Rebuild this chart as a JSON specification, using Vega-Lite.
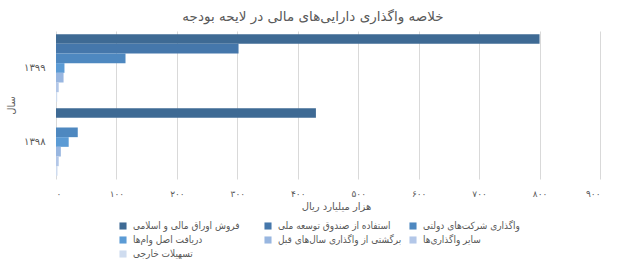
{
  "$schema": "https://vega.github.io/schema/vega-lite/v6.json",
  "autosize": {"type": "none"},
  "width": 544,
  "height": 148,
  "padding": {"left": 56, "top": 31, "right": 25, "bottom": 80},
  "background": "white",
  "config": {
    "view": {"stroke": null},
    "font": "DejaVu Sans"
  },
  "title": {
    "text": "خلاصه واگذاری دارایی‌های مالی در لایحه بودجه",
    "font": "DejaVu Sans",
    "fontSize": 13.5,
    "fontWeight": "normal",
    "color": "#595959",
    "anchor": "middle",
    "frame": "group",
    "dx": -15,
    "offset": 8
  },
  "data": {
    "values": [
      {"year": "۱۳۹۹", "series": "فروش اوراق مالی و اسلامی", "value": 800},
      {"year": "۱۳۹۹", "series": "استفاده از صندوق توسعه ملی", "value": 302},
      {"year": "۱۳۹۹", "series": "واگذاری شرکت‌های دولتی", "value": 115},
      {"year": "۱۳۹۹", "series": "دریافت اصل وام‌ها", "value": 14},
      {"year": "۱۳۹۹", "series": "برگشتی از واگذاری سال‌های قبل", "value": 12.5},
      {"year": "۱۳۹۹", "series": "سایر واگذاری‌ها", "value": 4.5},
      {"year": "۱۳۹۹", "series": "تسهیلات خارجی", "value": 2},
      {"year": "۱۳۹۸", "series": "فروش اوراق مالی و اسلامی", "value": 430},
      {"year": "۱۳۹۸", "series": "استفاده از صندوق توسعه ملی", "value": 0},
      {"year": "۱۳۹۸", "series": "واگذاری شرکت‌های دولتی", "value": 36},
      {"year": "۱۳۹۸", "series": "دریافت اصل وام‌ها", "value": 21},
      {"year": "۱۳۹۸", "series": "برگشتی از واگذاری سال‌های قبل", "value": 8},
      {"year": "۱۳۹۸", "series": "سایر واگذاری‌ها", "value": 4.5},
      {"year": "۱۳۹۸", "series": "تسهیلات خارجی", "value": 2.5}
    ]
  },
  "mark": {"type": "bar", "cornerRadius": 0},
  "encoding": {
    "y": {
      "field": "year",
      "type": "nominal",
      "sort": ["۱۳۹۹", "۱۳۹۸"],
      "scale": {"paddingInner": 0.085, "paddingOuter": 0.0425},
      "axis": {
        "title": "سال",
        "titleFont": "DejaVu Sans",
        "titleFontSize": 10,
        "titleFontWeight": "normal",
        "titleColor": "#595959",
        "titlePadding": 7,
        "labelFont": "DejaVu Sans",
        "labelFontSize": 10,
        "labelColor": "#595959",
        "labelPadding": 11,
        "ticks": false,
        "domain": false,
        "grid": false
      }
    },
    "yOffset": {
      "field": "series",
      "type": "nominal",
      "sort": ["فروش اوراق مالی و اسلامی", "استفاده از صندوق توسعه ملی", "واگذاری شرکت‌های دولتی", "دریافت اصل وام‌ها", "برگشتی از واگذاری سال‌های قبل", "سایر واگذاری‌ها", "تسهیلات خارجی"],
      "scale": {"paddingInner": 0, "paddingOuter": 0}
    },
    "x": {
      "field": "value",
      "type": "quantitative",
      "scale": {"domain": [0, 900], "nice": false, "zero": true},
      "axis": {
        "title": "هزار میلیارد ریال",
        "titleFont": "DejaVu Sans",
        "titleFontSize": 10,
        "titleFontWeight": "normal",
        "titleColor": "#595959",
        "titlePadding": 3,
        "titleX": 280,
        "values": [0, 100, 200, 300, 400, 500, 600, 700, 800, 900],
        "labelExpr": "['۰','۱۰۰','۲۰۰','۳۰۰','۴۰۰','۵۰۰','۶۰۰','۷۰۰','۸۰۰','۹۰۰'][round(datum.value/100)]",
        "labelFont": "DejaVu Sans",
        "labelFontSize": 9,
        "labelColor": "#595959",
        "labelPadding": 10,
        "ticks": false,
        "domain": false,
        "grid": true,
        "gridColor": "#d9d9d9",
        "gridWidth": 1
      }
    },
    "color": {
      "field": "series",
      "type": "nominal",
      "scale": {
        "domain": ["فروش اوراق مالی و اسلامی", "استفاده از صندوق توسعه ملی", "واگذاری شرکت‌های دولتی", "دریافت اصل وام‌ها", "برگشتی از واگذاری سال‌های قبل", "سایر واگذاری‌ها", "تسهیلات خارجی"],
        "range": ["#3e6a94", "#4577ab", "#4e88c0", "#5b9bd5", "#98b6e0", "#b3c7e8", "#cfdcef"]
      },
      "legend": {
        "title": null,
        "orient": "none",
        "legendX": 62,
        "legendY": 190,
        "direction": "horizontal",
        "columns": 3,
        "gridAlign": "all",
        "columnPadding": 6,
        "rowPadding": 4,
        "symbolType": "square",
        "symbolSize": 50,
        "symbolStrokeWidth": 0,
        "labelFont": "DejaVu Sans Condensed",
        "labelFontSize": 10,
        "labelColor": "#595959",
        "labelOffset": 5,
        "labelLimit": 200
      }
    }
  }
}
